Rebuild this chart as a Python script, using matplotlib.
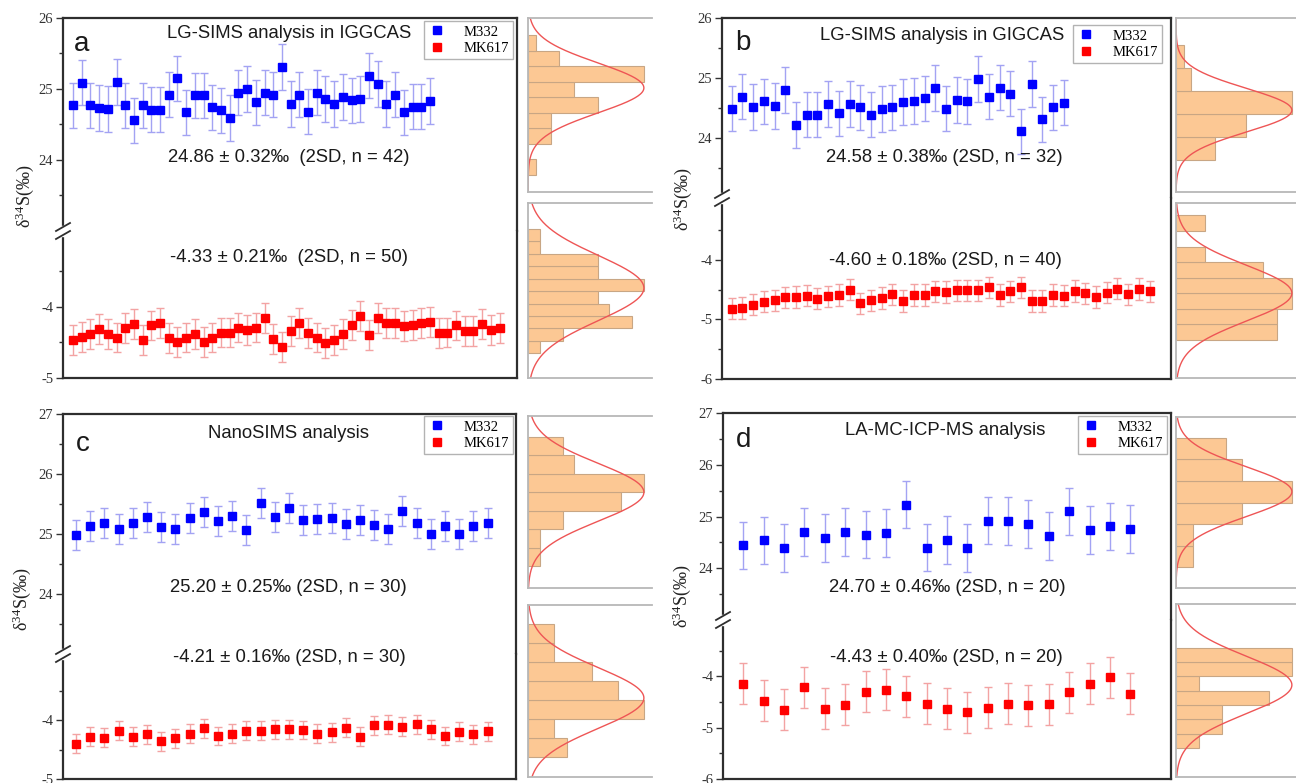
import numpy as np
import matplotlib
matplotlib.use('Agg')
import matplotlib.pyplot as plt
from matplotlib.lines import Line2D
from matplotlib.patches import Rectangle

W, H = 1296, 783

# ---- data ----
# (a) LG-SIMS analysis in IGGCAS
a_m332 = [24.77, 25.09, 24.77, 24.73, 24.72, 25.10, 24.77, 24.56, 24.77, 24.71,
          24.71, 24.92, 25.15, 24.67, 24.91, 24.91, 24.74, 24.70, 24.59, 24.95,
          25.00, 24.81, 24.95, 24.92, 25.31, 24.79, 24.92, 24.68, 24.95, 24.86,
          24.79, 24.89, 24.84, 24.86, 25.19, 25.07, 24.79, 24.92, 24.67, 24.75,
          24.75, 24.83]
a_mk617 = [-4.46, -4.42, -4.38, -4.31, -4.38, -4.43, -4.30, -4.24, -4.47, -4.26,
           -4.22, -4.44, -4.49, -4.43, -4.38, -4.49, -4.43, -4.36, -4.36, -4.29,
           -4.32, -4.29, -4.15, -4.45, -4.56, -4.34, -4.22, -4.37, -4.43, -4.51,
           -4.46, -4.38, -4.25, -4.13, -4.39, -4.16, -4.23, -4.23, -4.27, -4.25,
           -4.23, -4.21, -4.37, -4.36, -4.26, -4.34, -4.34, -4.24, -4.32, -4.30]
a_stats = [(24.86, 0.32, 42), (-4.33, 0.21, 50)]
a_hist_m332 = [1, 0, 3, 3, 9, 6, 15, 4, 1]            # bins from 24.30, width 0.10
a_hist_mk617 = [1, 3, 9, 7, 6, 10, 6, 6, 1, 1]        # bins from -4.54, width 0.04

# (b) LG-SIMS analysis in GIGCAS
b_m332 = [24.49, 24.69, 24.52, 24.61, 24.53, 24.80, 24.22, 24.39, 24.39, 24.57,
          24.41, 24.57, 24.51, 24.39, 24.48, 24.51, 24.60, 24.62, 24.66, 24.83,
          24.49, 24.63, 24.61, 24.98, 24.69, 24.84, 24.74, 24.11, 24.90, 24.31,
          24.51, 24.59]
b_mk617 = [-4.82, -4.81, -4.75, -4.70, -4.68, -4.63, -4.62, -4.60, -4.65, -4.61,
           -4.59, -4.50, -4.73, -4.68, -4.64, -4.58, -4.69, -4.59, -4.59, -4.53,
           -4.54, -4.51, -4.51, -4.51, -4.46, -4.59, -4.53, -4.46, -4.69, -4.69,
           -4.59, -4.60, -4.52, -4.56, -4.62, -4.55, -4.48, -4.58, -4.49, -4.53]
b_stats = [(24.58, 0.38, 32), (-4.60, 0.18, 40)]
b_hist_m332 = [5, 9, 15, 2, 1]                        # bins from 24.15, width 0.20
b_hist_mk617 = [7, 7, 8, 8, 6, 2, 0, 2]               # bins from -4.75, width 0.05

# (c) NanoSIMS analysis
c_m332 = [24.98, 25.13, 25.19, 25.08, 25.18, 25.29, 25.11, 25.09, 25.26, 25.36,
          25.21, 25.30, 25.07, 25.52, 25.28, 25.43, 25.24, 25.25, 25.26, 25.16,
          25.24, 25.15, 25.09, 25.39, 25.18, 25.00, 25.14, 25.00, 25.14, 25.18]
c_mk617 = [-4.40, -4.28, -4.30, -4.18, -4.28, -4.24, -4.36, -4.31, -4.23, -4.14,
           -4.27, -4.23, -4.18, -4.18, -4.16, -4.16, -4.17, -4.23, -4.21, -4.13,
           -4.28, -4.09, -4.08, -4.11, -4.07, -4.16, -4.27, -4.20, -4.24, -4.19]
c_stats = [(25.20, 0.25, 30), (-4.21, 0.16, 30)]
c_hist_m332 = [1, 1, 3, 8, 10, 4, 3]                  # bins from 24.88, width 0.08
c_hist_mk617 = [3, 2, 9, 7, 5, 2, 2]                  # bins from -4.365, width 0.05

# (d) LA-MC-ICP-MS analysis
d_m332 = [24.44, 24.54, 24.39, 24.70, 24.59, 24.70, 24.65, 24.68, 25.23, 24.40,
          24.55, 24.39, 24.92, 24.91, 24.86, 24.62, 25.10, 24.74, 24.81, 24.76]
d_mk617 = [-4.14, -4.47, -4.65, -4.21, -4.63, -4.55, -4.30, -4.26, -4.39, -4.53,
           -4.63, -4.70, -4.61, -4.53, -4.56, -4.54, -4.31, -4.14, -4.02, -4.34]
d_stats = [(24.70, 0.46, 20), (-4.43, 0.40, 20)]
d_hist_m332 = [1, 1, 4, 7, 4, 3]                      # bins from 24.00, width 0.20
d_hist_mk617 = [1, 2, 2, 4, 1, 5, 5]                  # bins from -4.87, width 0.10

BLUE, RED = '#0000ff', '#ff0000'
BLUE_ERR, RED_ERR = '#a3a3f3', '#f3a3a3'

plt.rcParams['font.family'] = 'Liberation Serif'
plt.rcParams['mathtext.fontset'] = 'stix'
plt.rcParams['axes.unicode_minus'] = False

fig = plt.figure(figsize=(W / 100, H / 100), dpi=100)


def px(left, top, right, bottom):
    return [left / W, 1 - bottom / H, (right - left) / W, (bottom - top) / H]


def ftext(x, y, s, **kw):
    fig.text(x / W, 1 - y / H, s, ha='center', va='center', **kw)


def style_axis(ax, majors, minors):
    ax.set_xticks([])
    ax.set_yticks(majors)
    ax.set_yticks(minors, minor=True)
    ax.tick_params(axis='y', which='major', direction='out', length=5, width=1,
                   labelsize=10.5, color='#333333', labelcolor='#333333', pad=2)
    ax.tick_params(axis='y', which='minor', direction='out', length=3, width=1,
                   color='#333333')
    for s in ax.spines.values():
        s.set_color('#2e2e2e')
        s.set_linewidth(1.6)


def break_marks(x, y):
    fig.add_artist(Rectangle(((x - 2) / W, 1 - (y + 5) / H), 4 / W, 10 / H,
                             transform=fig.transFigure, color='white', zorder=10))
    for dy in (-4, 4):
        fig.add_artist(Line2D([(x - 7) / W, (x + 7) / W],
                              [1 - (y + dy + 4) / H, 1 - (y + dy - 4) / H],
                              transform=fig.transFigure, color='#2e2e2e', lw=1.3, zorder=11))


def main_panel(box, split, xlim, ylim_t, ylim_b, maj_t, min_t, maj_b, min_b,
               m332, mk617, stats):
    left, top, right, bottom = box
    ax_t = fig.add_axes(px(left, top, right, split))
    ax_b = fig.add_axes(px(left, split, right, bottom))
    ax_t.spines['bottom'].set_visible(False)
    ax_b.spines['top'].set_visible(False)
    ax_t.errorbar(np.arange(1, len(m332) + 1), m332, yerr=stats[0][1], fmt='s',
                  color=BLUE, ms=6, ecolor=BLUE_ERR, elinewidth=1, capsize=3, capthick=1)
    ax_b.errorbar(np.arange(1, len(mk617) + 1), mk617, yerr=stats[1][1], fmt='s',
                  color=RED, ms=6, ecolor=RED_ERR, elinewidth=1, capsize=3, capthick=1)
    for ax, yl in ((ax_t, ylim_t), (ax_b, ylim_b)):
        ax.set_xlim(xlim)
        ax.set_ylim(yl)
    style_axis(ax_t, maj_t, min_t)
    style_axis(ax_b, maj_b, min_b)
    break_marks(left, split)
    return ax_t, ax_b


def hist_panel(box, counts, lo, width, mean, sd, ylim, xpad=1.07):
    ax = fig.add_axes(px(*box))
    edges = [lo + i * width for i in range(len(counts))]
    ax.barh(edges, counts, height=width, align='edge', color='#fcc894',
            edgecolor='#c8a684', linewidth=0.8)
    yy = np.linspace(ylim[0], ylim[1], 300)
    ax.plot(max(counts) * np.exp(-0.5 * ((yy - mean) / sd) ** 2), yy,
            color='#ee5555', lw=1)
    ax.set_ylim(ylim)
    ax.set_xlim(0, max(counts) * xpad)
    ax.set_xticks([])
    ax.set_yticks([])
    for s in ax.spines.values():
        s.set_color('#b8b8b8')
        s.set_linewidth(1.3)
    ax.spines['right'].set_visible(False)


def legend(ax, x_right, y_top):
    handles = [Line2D([], [], marker='s', ls='none', color=BLUE, ms=6),
               Line2D([], [], marker='s', ls='none', color=RED, ms=6)]
    lg = ax.legend(handles, ['M332', 'MK617'], loc='upper right',
                   bbox_to_anchor=(x_right / W, 1 - y_top / H),
                   bbox_transform=fig.transFigure, fontsize=10.5, frameon=True,
                   fancybox=False, edgecolor='#a0a0a0', borderpad=0.3,
                   labelspacing=0.2, handlelength=1.2, handletextpad=1.2,
                   borderaxespad=0)
    lg.get_frame().set_linewidth(1)


def stat_text(stats, sep):
    m, e, n = stats
    return f'{m:.2f} ± {e:.2f}‰{sep}(2SD, n = {n})'


sans = dict(family='Liberation Sans', color='#1a1a1a')
TS = 13.3
ylab = r'δ$^{\mathregular{34}}$S(‰)'

# ---- panel a ----
ax_t, ax_b = main_panel((63, 18, 517, 378), 231, (-0.15, 52.0), (23, 26), (-5, -2.93),
                        [24, 25, 26], [23.5, 24.5, 25.5], [-5, -4], [-4.5, -3.5],
                        a_m332, a_mk617, a_stats)
legend(ax_t, 513, 21)
ftext(82, 44, 'a', fontsize=20, **sans)
ftext(289, 33, 'LG-SIMS analysis in IGGCAS', fontsize=TS, **sans)
ftext(289, 157, stat_text(a_stats[0], '  '), fontsize=TS, **sans)
ftext(289, 258, stat_text(a_stats[1], '  '), fontsize=TS, **sans)
ftext(25, 196, ylab, fontsize=13, rotation=90, color='#222222')
hist_panel((528, 18, 652, 192), a_hist_m332, 24.30, 0.10, a_stats[0][0], a_stats[0][1] / 2, (24.19, 25.31))
hist_panel((528, 203, 652, 378), a_hist_mk617, -4.54, 0.04, a_stats[1][0], 0.105, (-4.62, -4.056))

# ---- panel b ----
ax_t, ax_b = main_panel((722, 18, 1171, 379), 198, (0.1, 42.0), (23, 26), (-6, -2.96),
                        [24, 25, 26], [23.5, 24.5, 25.5], [-6, -5, -4], [-5.5, -4.5, -3.5],
                        b_m332, b_mk617, b_stats)
legend(ax_t, 1162, 25)
ftext(743, 43, 'b', fontsize=20, **sans)
ftext(942, 35, 'LG-SIMS analysis in GIGCAS', fontsize=TS, **sans)
ftext(944, 157, stat_text(b_stats[0], ' '), fontsize=TS, **sans)
ftext(945, 261, stat_text(b_stats[1], ' '), fontsize=TS, **sans)
ftext(683, 199, ylab, fontsize=13, rotation=90, color='#222222')
hist_panel((1176, 18, 1300, 192), b_hist_m332, 24.15, 0.20, b_stats[0][0], b_stats[0][1] / 2, (23.87, 25.38))
hist_panel((1176, 203, 1300, 378), b_hist_mk617, -4.75, 0.05, b_stats[1][0], b_stats[1][1] / 2, (-4.873, -4.31))

# ---- panel c ----
ax_t, ax_b = main_panel((63, 414, 516, 779), 654, (0.08, 32.0), (23, 27), (-5, -2.88),
                        [24, 25, 26, 27], [23.5, 24.5, 25.5, 26.5], [-5, -4], [-4.5, -3.5],
                        c_m332, c_mk617, c_stats)
legend(ax_t, 513, 416)
ftext(83, 444, 'c', fontsize=20, **sans)
ftext(288, 433, 'NanoSIMS analysis', fontsize=TS, **sans)
ftext(288, 588, stat_text(c_stats[0], ' '), fontsize=TS, **sans)
ftext(289, 657, stat_text(c_stats[1], ' '), fontsize=TS, **sans)
ftext(22, 599, ylab, fontsize=13, rotation=90, color='#222222')
hist_panel((528, 416, 652, 588), c_hist_m332, 24.88, 0.08, c_stats[0][0], c_stats[0][1] / 2, (24.786, 25.53))
hist_panel((528, 605, 652, 777), c_hist_mk617, -4.365, 0.05, c_stats[1][0], c_stats[1][1] / 2, (-4.418, -3.965))

# ---- panel d ----
ax_t, ax_b = main_panel((723, 413, 1171, 779), 620, (0.0, 22.0), (23, 27), (-6, -2.9),
                        [24, 25, 26, 27], [23.5, 24.5, 25.5, 26.5], [-6, -5, -4], [-5.5, -4.5, -3.5],
                        d_m332, d_mk617, d_stats)
legend(ax_t, 1167, 416)
ftext(744, 440, 'd', fontsize=20, **sans)
ftext(945, 431, 'LA-MC-ICP-MS analysis', fontsize=TS, **sans)
ftext(947, 588, stat_text(d_stats[0], ' '), fontsize=TS, **sans)
ftext(946, 657, stat_text(d_stats[1], ' '), fontsize=TS, **sans)
ftext(682, 596, ylab, fontsize=13, rotation=90, color='#222222')
hist_panel((1176, 417, 1300, 588), d_hist_m332, 24.00, 0.20, d_stats[0][0], d_stats[0][1] / 2, (23.81, 25.39))
hist_panel((1176, 604, 1300, 777), d_hist_mk617, -4.87, 0.10, d_stats[1][0], d_stats[1][1] / 2, (-5.07, -3.867))

fig.savefig('out.png', dpi=100)
